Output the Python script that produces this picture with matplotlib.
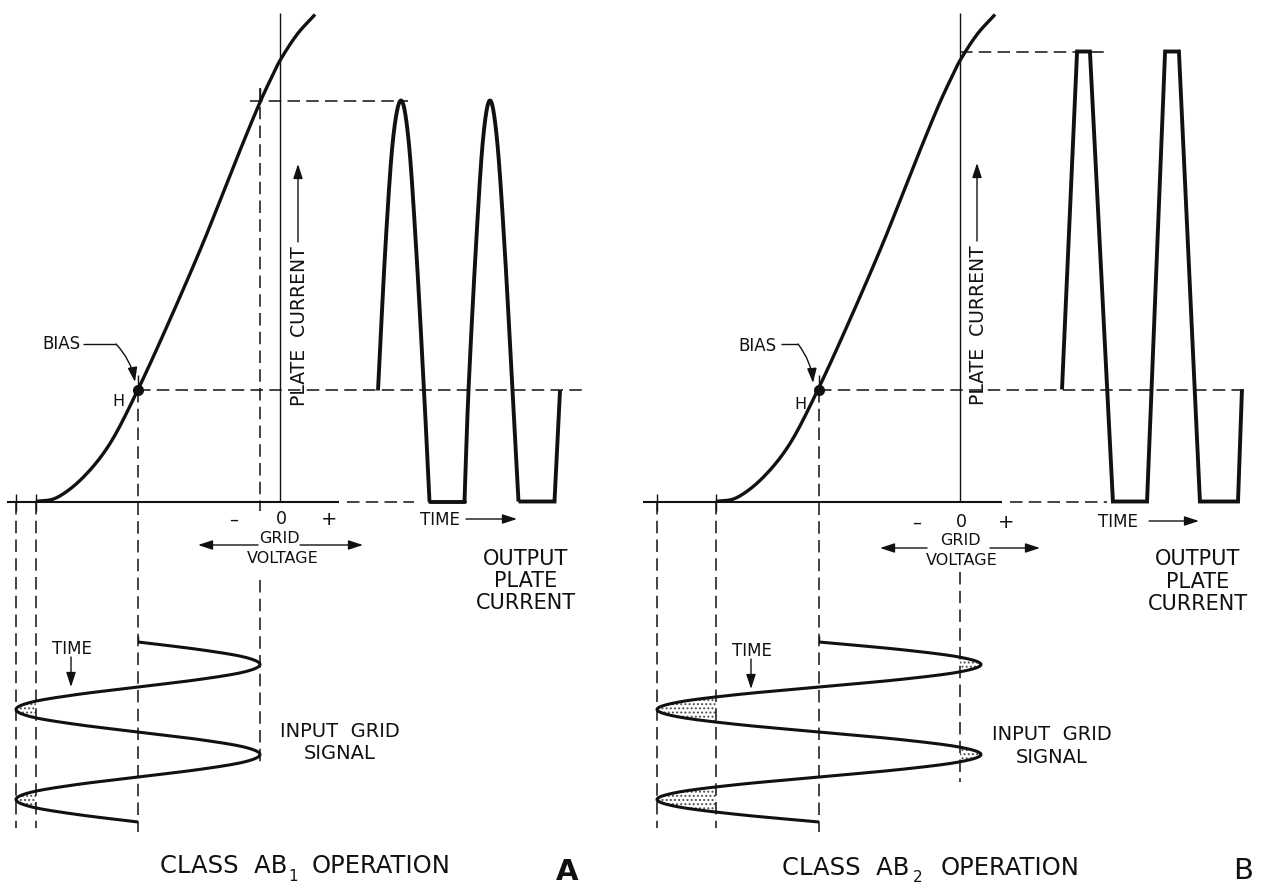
import numpy as np
import matplotlib
matplotlib.use("Agg")
import matplotlib.pyplot as plt
from matplotlib.transforms import Affine2D
from matplotlib import font_manager as fm

# ---------------------------------------------------------------- data
# Tube transfer characteristic: grid voltage (V) -> plate current (mA)
curve_v = [-24.4, -22.3, -19.7, -17.0, -14.2, -11.0, -7.8, -5.4, -3.7, -2.1, -0.9, 0.0, 1.7, 3.5]
curve_i = [0.0, 0.4, 2.4, 5.8, 11.2, 18.2, 25.6, 31.6, 35.85, 39.7, 42.3, 44.1, 46.7, 48.7]

# Input grid signal, time in electrical degrees
in_t = [0, 30, 60, 90, 120, 150, 180, 210, 240, 270, 300, 330, 360,
        390, 420, 450, 480, 510, 540, 570, 600, 630, 660, 690, 720]
a_in_v = [-14.2, -8.1, -3.6, -2.0, -3.6, -8.1, -14.2, -20.3, -24.8, -26.4, -24.8, -20.3, -14.2,
          -8.1, -3.6, -2.0, -3.6, -8.1, -14.2, -20.3, -24.8, -26.4, -24.8, -20.3, -14.2]
b_in_v = [-14.1, -6.0, -0.1, 2.1, -0.1, -6.0, -14.1, -22.2, -28.1, -30.3, -28.1, -22.2, -14.1,
          -6.0, -0.1, 2.1, -0.1, -6.0, -14.1, -22.2, -28.1, -30.3, -28.1, -22.2, -14.1]

# Operating (bias) points H
a_bias_v, a_bias_i = -14.2, 11.2
b_bias_v, b_bias_i = -14.1, 11.2

# Output plate current A (time deg, mA) - rounded arches, cut off at zero
a_arch1_t = [0, 30, 60, 92, 122, 152, 184, 206]
a_arch1_i = [11.1, 25.6, 36.2, 40.1, 36.2, 25.6, 11.1, 0.0]
a_arch2_t = [346, 362, 392, 420, 448, 476, 506, 538, 562]
a_arch2_i = [0.0, 11.1, 25.6, 36.2, 40.1, 36.2, 25.6, 11.1, 0.0]
a_tail_t = [562, 706, 728]
a_tail_i = [0.0, 0.0, 11.1]
a_bottom1_t = [206, 346]

# Output plate current B (time deg, mA) - flat topped
b_out_t = [0, 61, 113, 206, 344, 417, 473, 558, 712, 728]
b_out_i = [11.2, 45.0, 45.0, 0.0, 0.0, 45.0, 45.0, 0.0, 0.0, 11.2]

# ---------------------------------------------------------------- layout
W, H = 1263, 885
Y0 = 501.5
UNIT = 10.0
IN_I0, IN_K = -14.05, 0.025
A_X0, B_X0 = 280.0, 960.0
A_OUT_V0, A_OUT_K = 9.8, 0.025
B_OUT_V0, B_OUT_K = 10.2, 0.02472

plt.rcParams['lines.scale_dashes'] = False
plt.rcParams['hatch.linewidth'] = 0.9
plt.rcParams['lines.solid_capstyle'] = 'butt'
plt.rcParams['font.family'] = ['DejaVu Sans']

FP = fm.FontProperties(family='DejaVu Sans')
FPB = fm.FontProperties(family='DejaVu Sans', weight='bold')
CAP = 0.729

fig = plt.figure(figsize=(W / 100, H / 100), dpi=100)
fig.patch.set_facecolor('white')
PX = Affine2D().scale(1.0 / W, -1.0 / H).translate(0, 1) + fig.transFigure
R = fig.canvas.get_renderer()

K = '#111111'
DASH = (0, (9, 4.5))


def smooth(xs, ys, n=24):
    P = np.column_stack([xs, ys]).astype(float)
    P = np.vstack([2 * P[0] - P[1], P, 2 * P[-1] - P[-2]])
    out = []
    t = np.linspace(0, 1, n, endpoint=False)[:, None]
    for k in range(1, len(P) - 2):
        p0, p1, p2, p3 = P[k - 1], P[k], P[k + 1], P[k + 2]
        seg = 0.5 * (2 * p1 + (-p0 + p2) * t + (2 * p0 - 5 * p1 + 4 * p2 - p3) * t ** 2
                     + (-p0 + 3 * p1 - 3 * p2 + p3) * t ** 3)
        out.append(seg)
    out.append(P[-2][None, :])
    S = np.vstack(out)
    return S[:, 0], S[:, 1]


def make_axes(x0):
    ax = fig.add_axes([0, 0, 1, 1])
    ax.set_xlim((0 - x0) / UNIT, (W - x0) / UNIT)
    ax.set_ylim((Y0 - H) / UNIT, Y0 / UNIT)
    ax.set_autoscale_on(False)
    ax.axis('off')
    ax.patch.set_alpha(0)
    return ax


def dline(ax, xs, ys, **kw):
    ax.plot(xs, ys, color=K, lw=1.1, ls=DASH, **kw)


def sline(ax, xs, ys, lw=1.1, **kw):
    ax.plot(xs, ys, color=K, lw=lw, **kw)


def txt(x, yc, s, size=12, rot=0, ha='center', fp=None, spacing=None):
    """Capitals of the first line are centred on yc (px)."""
    fp = (fp or FP).copy()
    fp.set_size(size)
    t = fig.text(x, yc, s, transform=PX, fontproperties=fp, color=K, ha=ha, va='baseline',
                 rotation_mode='anchor', multialignment='center')
    nlines = s.count('\n') + 1
    extra = 0.0
    if nlines > 1 and spacing is not None:
        _, lh, ld = R.get_text_width_height_descent('lp', fp, ismath=False)
        t.set_linespacing((spacing - ld) / (lh - ld))
        extra = (nlines - 1) * spacing
    cap = CAP * size * 100 / 72.0
    if rot == 90:
        t.set_position((x + cap / 2, yc))
    else:
        t.set_position((x, yc + cap / 2 + extra))
    t.set_rotation(rot)
    return t


def arrow(x1, y1, x2, y2, lw=1.0, rad=0.0):
    fig.add_artist(matplotlib.patches.FancyArrowPatch(
        (x1, y1), (x2, y2), transform=PX, arrowstyle='-|>,head_length=0.55,head_width=0.18',
        mutation_scale=16, lw=lw, color=K, shrinkA=0, shrinkB=0,
        connectionstyle=f'arc3,rad={rad}'))


def bottom_level(t):
    return IN_I0 - IN_K * t


def draw_panel(ax, in_v, bias_v, bias_i, base_left, solid_end, dash_end, axis_top,
               peak_i, peak_from, peak_to, bias_to, right_v, right_top, right_break,
               right_end, fill_right):
    tr_in = Affine2D().scale(1, -IN_K).translate(0, IN_I0) + ax.transData
    cutoff = curve_v[0]
    trough = min(in_v)
    sline(ax, [base_left, solid_end], [0, 0], lw=1.5)
    dline(ax, [solid_end + 0.8, dash_end], [0, 0])
    sline(ax, [0, 0], [0, axis_top], lw=1.0)
    cv, ci = smooth(curve_v, curve_i)
    sline(ax, cv, ci, lw=2.4)
    ax.plot([bias_v], [bias_i], 'o', color=K, ms=7, zorder=5)
    sline(ax, [bias_v, bias_v], [bias_i, bias_i + 1.5], lw=1.0)
    dline(ax, [bias_v, bias_to], [bias_i, bias_i])
    dline(ax, [bias_v, bias_v], [bias_i, bottom_level(760)])
    dline(ax, [peak_from, peak_to], [peak_i, peak_i])
    for v in (trough, cutoff):
        sline(ax, [v, v], [-0.9, 0.8], lw=1.0)
        dline(ax, [v, v], [0, bottom_level(745)])
    if right_top is not None:
        sline(ax, [right_v, right_v], [peak_i, right_top], lw=1.0)
        dline(ax, [right_v, right_v], [right_top, -0.9])
    dline(ax, [right_v, right_v], [right_break, right_end])
    sv, st = smooth(in_v, in_t)
    ax.plot(sv, st, color=K, lw=2.2, transform=tr_in)
    sline(ax, [bias_v, bias_v], [IN_I0, IN_I0 + 0.6], lw=1.0)
    ax.fill_betweenx(st, sv, cutoff, where=sv < cutoff, interpolate=True, transform=tr_in,
                     facecolor='none', edgecolor='0.3', hatch='....', lw=0)
    if fill_right:
        ax.fill_betweenx(st, sv, 0, where=sv > 0, interpolate=True, transform=tr_in,
                         facecolor='none', edgecolor='0.3', hatch='....', lw=0)


# ---------------------------------------------------------------- panel A
axA = make_axes(A_X0)
draw_panel(axA, a_in_v, a_bias_v, a_bias_i, base_left=-27.3, solid_end=5.9, dash_end=13.4,
           axis_top=48.85, peak_i=max(a_arch1_i), peak_from=-3.0,
           peak_to=A_OUT_V0 + A_OUT_K * a_arch1_t[3] + 0.7, bias_to=30.5,
           right_v=max(a_in_v), right_top=max(a_arch1_i) + 1.2, right_break=-7.85,
           right_end=bottom_level(480), fill_right=False)
trA = Affine2D().scale(A_OUT_K, 1).translate(A_OUT_V0, 0) + axA.transData
for tt, ii in ((a_arch1_t, a_arch1_i), (a_arch2_t, a_arch2_i)):
    x, y = smooth(tt, ii)
    axA.plot(x, y, color=K, lw=2.8, transform=trA, solid_joinstyle='round')
axA.plot(a_bottom1_t, [0, 0], color=K, lw=2.8, transform=trA, solid_capstyle='round')
axA.plot(a_tail_t, a_tail_i, color=K, lw=2.8, transform=trA, solid_joinstyle='miter')

# ---------------------------------------------------------------- panel B
axB = make_axes(B_X0)
draw_panel(axB, b_in_v, b_bias_v, b_bias_i, base_left=-31.7, solid_end=4.2, dash_end=14.7,
           axis_top=48.85, peak_i=max(b_out_i), peak_from=0.0, peak_to=14.7, bias_to=29.0,
           right_v=0.0, right_top=None, right_break=-7.05, right_end=-28.05, fill_right=True)
trB = Affine2D().scale(B_OUT_K, 1).translate(B_OUT_V0, 0) + axB.transData
axB.plot(b_out_t, b_out_i, color=K, lw=2.8, transform=trB, solid_joinstyle='miter')

# ---------------------------------------------------------------- labels
panels = [
    dict(bias=(80, 343), h=(118, 400), pc=(298, 326), m=(234, 518), z=(281, 518),
         p=(329, 518), grid=(279, 537.5), volt=(283, 557.5), arr_y=545, al=(258, 198),
         ar=(300, 363), time=(420, 519), ta=(466, 517), out=(526, 555),
         inp=(340, 726.5), itime=(72, 648), iax=71),
    dict(bias=(777, 345), h=(800, 403), pc=(977, 325), m=(917, 521), z=(961, 521),
         p=(1006, 521), grid=(960, 539.5), volt=(962, 559), arr_y=548, al=(927, 880),
         ar=(990, 1040), time=(1098, 521), ta=(1149, 1199), out=(1198, 555.5),
         inp=(1052, 730), itime=(752, 650), iax=751),
]
for d in panels:
    txt(d['bias'][0], d['bias'][1], 'BIAS', size=12, ha='right')
    txt(d['h'][0], d['h'][1], 'H', size=11.5)
    x, y = d['pc']
    txt(x, y, 'PLATE  CURRENT', size=13.5, rot=90)
    arrow(x, y - 84, x, y - 162)
    txt(d['m'][0], d['m'][1], '\u2013', size=13)
    txt(d['z'][0], d['z'][1], '0', size=12.5)
    txt(d['p'][0], d['p'][1], '+', size=14)
    txt(d['grid'][0], d['grid'][1], 'GRID', size=11.5)
    txt(d['volt'][0], d['volt'][1], 'VOLTAGE', size=11.5)
    yy = d['arr_y']
    arrow(d['al'][0], yy, d['al'][1], yy)
    arrow(d['ar'][0], yy, d['ar'][1], yy)
    x, y = d['time']
    txt(x, y, 'TIME', size=12, ha='left')
    arrow(d['ta'][0], y, d['ta'][1], y)
    txt(d['out'][0], d['out'][1], 'OUTPUT\nPLATE\nCURRENT', size=15, spacing=22.3)
    txt(d['inp'][0], d['inp'][1], 'INPUT  GRID\nSIGNAL', size=14, spacing=22.3)
    x, y = d['itime']
    txt(x, y, 'TIME', size=12)
    arrow(d['iax'], y + 9, d['iax'], y + 39)

for (x1, x2, ex, ey) in ((83, 116, 135, 382), (781, 798, 813, 383)):
    fig.add_artist(plt.Line2D([x1, x2], [344, 344], transform=PX, color=K, lw=1.0))
    arrow(x2, 344, ex, ey, rad=-0.15)

# Captions
txt(287, 864, 'CLASS  AB', size=17.5, ha='right')
txt(293, 875.5, '1', size=11)
txt(312, 864, 'OPERATION', size=17.5, ha='left')
txt(567, 869, 'A', size=21, fp=FPB)
txt(909, 866, 'CLASS  AB', size=17.5, ha='right')
txt(918, 876, '2', size=11)
txt(941, 866, 'OPERATION', size=17.5, ha='left')
txt(1243, 868, 'B', size=21)

fig.savefig('out.png', dpi=100, facecolor='white')
